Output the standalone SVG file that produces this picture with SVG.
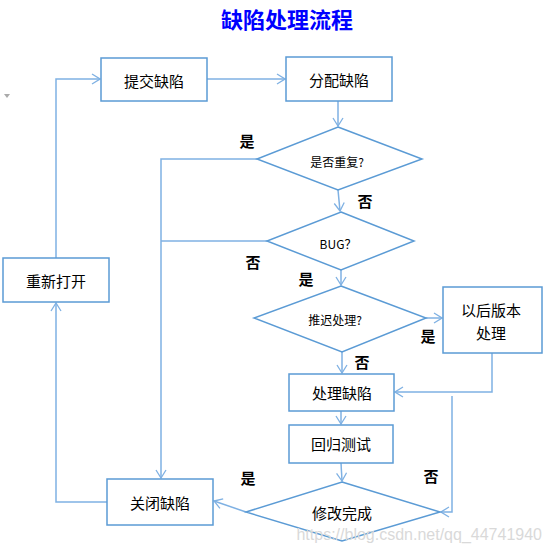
<svg xmlns="http://www.w3.org/2000/svg" width="552" height="547" viewBox="0 0 552 547">
<defs>
<style>
.box{fill:#fff;stroke:#5B9BD5;stroke-width:1.5}
.dia{fill:#fff;stroke:#5B9BD5;stroke-width:1.5}
.edge{fill:none;stroke:#7FB1E3;stroke-width:1.5}
.t{font-family:"Noto Sans CJK SC","Liberation Sans",sans-serif;font-size:15px;fill:#000;text-anchor:middle;dominant-baseline:central}
.ts{font-family:"Noto Sans CJK SC","Liberation Sans",sans-serif;font-size:12px;fill:#000;text-anchor:middle;dominant-baseline:central}
.lb{font-family:"Noto Sans CJK SC",sans-serif;font-size:15px;font-weight:bold;fill:#000;text-anchor:middle;dominant-baseline:central}
</style>
<marker id="arr" viewBox="0 0 10 12" refX="9" refY="6" markerWidth="10" markerHeight="12" markerUnits="userSpaceOnUse" orient="auto">
<path d="M1,1 L9,6 L1,11" fill="none" stroke="#7FB1E3" stroke-width="1.3"/>
</marker>
</defs>
<rect width="552" height="547" fill="#fff"/>
<text x="287" y="18" font-family="Noto Sans CJK SC,sans-serif" font-size="22" font-weight="bold" fill="#0000FF" text-anchor="middle" dominant-baseline="central">缺陷处理流程</text>
<path d="M4,94 L10,94 L7,98 Z" fill="#aaa"/>
<g id="connectors">
<path class="edge" d="M207,79 H285" marker-end="url(#arr)"/>
<path class="edge" d="M338,101 V126" marker-end="url(#arr)"/>
<path class="edge" d="M257,159 H161 V478" marker-end="url(#arr)"/>
<path class="edge" d="M338,190 L340,211" marker-end="url(#arr)"/>
<path class="edge" d="M267,241 H161"/>
<path class="edge" d="M341,270 V285" marker-end="url(#arr)"/>
<path class="edge" d="M426,318 H442" marker-end="url(#arr)"/>
<path class="edge" d="M342,352 V373" marker-end="url(#arr)"/>
<path class="edge" d="M492,353 V392 H395" marker-end="url(#arr)"/>
<path class="edge" d="M341,411 V424" marker-end="url(#arr)"/>
<path class="edge" d="M341,463 L342,481" marker-end="url(#arr)"/>
<path class="edge" d="M246,512 L214,501" marker-end="url(#arr)"/>
<path class="edge" d="M452,396 V512 H441" marker-end="url(#arr)"/>
<path class="edge" d="M107,502 H56 V303" marker-end="url(#arr)"/>
<path class="edge" d="M56,258 V79 H100" marker-end="url(#arr)"/>
</g>
<g id="submit"><rect class="box" x="101" y="58" width="106" height="43"/><text class="t" x="154" y="80">提交缺陷</text></g>
<g id="assign"><rect class="box" x="286" y="57" width="106" height="44"/><text class="t" x="339" y="79">分配缺陷</text></g>
<g id="dup"><polygon class="dia" points="338,127 422,159 338,190 257,159"/><text class="ts" x="337" y="161">是否重复?</text></g>
<g id="bug"><polygon class="dia" points="341,212 414,241 341,270 267,241"/><text class="ts" x="338" y="243" font-size="11">BUG？</text></g>
<g id="defer"><polygon class="dia" points="341,286 426,318 342,352 254,318"/><text class="ts" x="335" y="319">推迟处理?</text></g>
<g id="later"><rect class="box" x="443" y="287" width="99" height="66"/><text class="t" x="491" y="309">以后版本</text><text class="t" x="491" y="332">处理</text></g>
<g id="fix"><rect class="box" x="289" y="374" width="105" height="37"/><text class="t" x="342" y="392">处理缺陷</text></g>
<g id="retest"><rect class="box" x="289" y="425" width="104" height="38"/><text class="t" x="341" y="443">回归测试</text></g>
<g id="done"><polygon class="dia" points="342,482 440,512 342,541 246,512"/><text class="t" x="342" y="512">修改完成</text></g>
<g id="close"><rect class="box" x="107" y="479" width="106" height="46"/><text class="t" x="160" y="502">关闭缺陷</text></g>
<g id="reopen"><rect class="box" x="3" y="258" width="106" height="44"/><text class="t" x="56" y="280">重新打开</text></g>
<g id="labels">
<text class="lb" x="247" y="140">是</text>
<text class="lb" x="365" y="200">否</text>
<text class="lb" x="253" y="261">否</text>
<text class="lb" x="306" y="278">是</text>
<text class="lb" x="428" y="335">是</text>
<text class="lb" x="362" y="361">否</text>
<text class="lb" x="248" y="477">是</text>
<text class="lb" x="431" y="475">否</text>
</g>
<text x="542" y="540" font-family="Liberation Sans,sans-serif" font-size="16" fill="#d9d9d9" text-anchor="end">https://blog.csdn.net/qq_44741940</text>
</svg>
